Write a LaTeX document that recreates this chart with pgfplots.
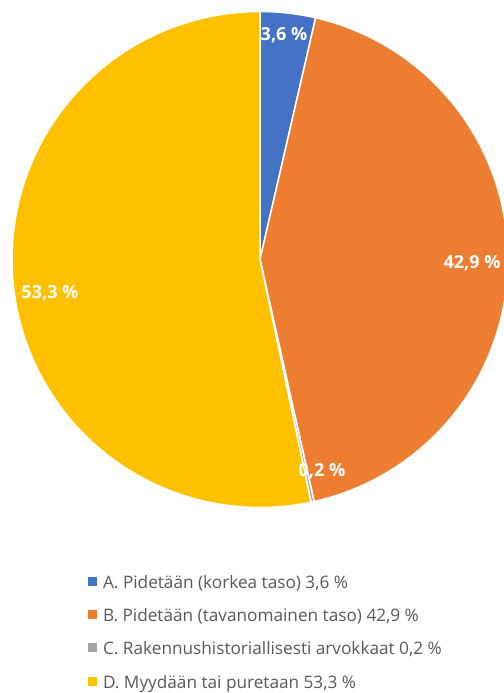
\documentclass[border=0pt]{standalone}
\usepackage{pgfplots}
\pgfplotsset{compat=1.18}
\usepackage{fontspec}
\setmainfont{Open Sans}
\definecolor{cA}{HTML}{4472C4}
\definecolor{cB}{HTML}{ED7D31}
\definecolor{cC}{HTML}{A5A5A5}
\definecolor{cD}{HTML}{FFC000}
\definecolor{legtxt}{HTML}{595959}
% data (percent)
\def\vA{3.6}
\def\vB{42.9}
\def\vC{0.2}
\def\vD{53.3}
\pgfmathsetmacro{\aA}{90}
\pgfmathsetmacro{\aB}{\aA-3.6*\vA}
\pgfmathsetmacro{\aC}{\aB-3.6*\vB}
\pgfmathsetmacro{\aD}{\aC-3.6*\vC}
\pgfmathsetmacro{\aE}{\aD-3.6*\vD}
\begin{document}
\begin{tikzpicture}
\useasboundingbox (0,0) rectangle (504bp,693bp);
\begin{axis}[
  at={(260bp,433.5bp)}, anchor=center,
  width=496bp, height=496bp, scale only axis,
  xmin=-1, xmax=1, ymin=-1, ymax=1,
  hide axis, clip=false,
  legend style={draw=none, fill=none, at={(0.153,-0.139)}, anchor=north west,
    font=\fontsize{17.2bp}{19bp}\selectfont, text=legtxt, inner sep=0pt,
    nodes={inner sep=0pt, text height=11bp, text depth=4bp},
    row sep=17.9bp, column sep=6bp},
  legend cell align=left,
  legend image code/.code={\fill[#1, draw=none] (0bp,-1bp) rectangle (9bp,8bp);},
  every axis plot/.append style={draw=white, line width=1.5bp, line join=round},
]
\addplot[fill=cA, domain=\aB:\aA, samples=40] ({cos(x)},{sin(x)}) -- (0,0) -- cycle;
\addlegendentry{A. Pidetään (korkea taso) 3,6 \%}
\addplot[fill=cB, domain=\aC:\aB, samples=150] ({cos(x)},{sin(x)}) -- (0,0) -- cycle;
\addlegendentry{B. Pidetään (tavanomainen taso) 42,9 \%}
\addplot[fill=cC, domain=\aD:\aC, samples=5] ({cos(x)},{sin(x)}) -- (0,0) -- cycle;
\addlegendentry{C. Rakennushistoriallisesti arvokkaat 0,2 \%}
\addplot[fill=cD, domain=\aE:\aD, samples=180] ({cos(x)},{sin(x)}) -- (0,0) -- cycle;
\addlegendentry{D. Myydään tai puretaan 53,3 \%}
\begin{scope}[every node/.style={text=white, font=\fontsize{18bp}{20bp}\selectfont\bfseries}]
\node at (axis cs:0.097,0.905) {3,6 \%};
\node at (axis cs:0.855,-0.014) {42,9 \%};
\node at (axis cs:-0.847,-0.135) {53,3 \%};
\node at (axis cs:0.25,-0.853) {0,2 \%};
\end{scope}
\end{axis}
\end{tikzpicture}
\end{document}
